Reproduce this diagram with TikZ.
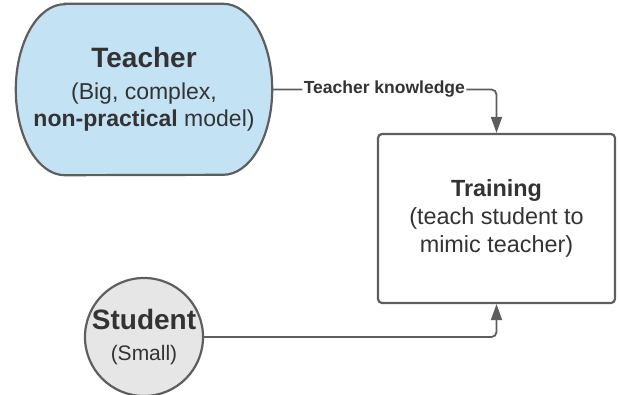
\documentclass[tikz,border=0pt]{standalone}
\usepackage{fontspec}
\setmainfont{Liberation Sans}
\usetikzlibrary{positioning,arrows.meta,backgrounds,calc}
\definecolor{lineGray}{HTML}{5E5E5E}
\definecolor{textGray}{HTML}{333333}
\definecolor{teacherBlue}{HTML}{C3E3F5}
\definecolor{studentGray}{HTML}{E6E6E6}

\begin{document}
\begin{tikzpicture}[x=1pt,y=1pt,
  every node/.style={text=textGray, align=center},
  conn/.style={lineGray, line width=1.8pt, rounded corners=5pt, -{Triangle[length=16pt,width=11pt]}},
  title/.style={font=\fontsize{23.4}{28}\selectfont}]
\useasboundingbox (0,0) rectangle (619,-394);

% Teacher model
\node[minimum width=256pt, minimum height=171pt, inner sep=0pt,
  font=\fontsize{23}{27}\selectfont] (teacher) at (144,-89.5)
  {{\fontsize{28}{33}\selectfont\bfseries Teacher}\\[5pt]
   (Big, complex,\\
   \textbf{non-practical} model)};
\begin{scope}[on background layer]
\draw[lineGray, line width=2.2pt, fill=teacherBlue]
  ($(teacher.north west)+(49,0)$) -- ($(teacher.north east)+(-49,0)$)
  arc[start angle=90, end angle=-90, x radius=49pt, y radius=85.5pt]
  -- ($(teacher.south west)+(49,0)$)
  arc[start angle=270, end angle=90, x radius=49pt, y radius=85.5pt] -- cycle;
\end{scope}

% Training step
\node[draw=lineGray, line width=2.2pt, rounded corners=4pt, minimum width=237pt,
  minimum height=169pt, title] (training) at (496.5,-218.5)
  {\textbf{Training}\\(teach student to\\mimic teacher)};

% Student model
\node[circle, draw=lineGray, line width=2.2pt, fill=studentGray, minimum size=112pt,
  inner sep=0pt, font=\fontsize{21}{25}\selectfont] (student) at (144,-337)
  {{\fontsize{28}{31}\selectfont\bfseries Student}\\[6pt]
   (Small)};

% Connectors
\draw[conn] (teacher.east) -| node[pos=0.25, fill=white, inner sep=1.5pt,
  font=\fontsize{17.5}{20}\selectfont\bfseries] {Teacher knowledge} (training.north);
\draw[conn] (student.east) -| (training.south);
\end{tikzpicture}
\end{document}
